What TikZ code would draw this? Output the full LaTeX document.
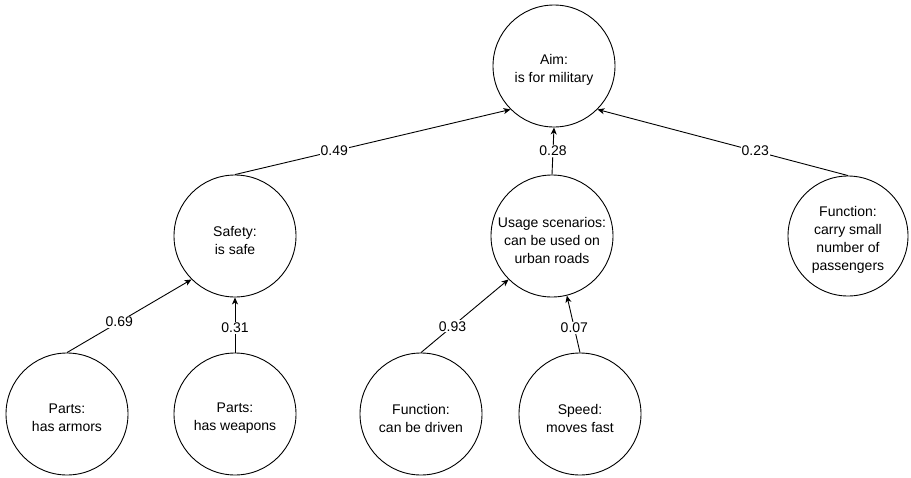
\documentclass[tikz,border=0pt]{standalone}
\usepackage{fontspec}
\setmainfont{Liberation Sans}
\usetikzlibrary{arrows.meta}
\begin{document}
\begin{tikzpicture}[x=1pt,y=-1pt,
  concept/.style={circle,draw,line width=0.9pt,minimum size=122pt,inner sep=0pt},
  caption/.style={align=center,inner sep=0pt,yshift=-4pt,font=\fontsize{14}{18}\selectfont},
  link/.style={line width=0.9pt,-{Stealth[length=7pt,width=6pt,inset=2pt]}},
  weight/.style={fill=white,inner sep=1pt,font=\fontsize{14}{16}\selectfont}]
\useasboundingbox (0,0) rectangle (911,477);
% concepts
\node[concept] (aim) at (554,66) {};
\node[caption] (aim-t) at (aim) {Aim:\\is for military};
\node[concept] (safety) at (235,236) {};
\node[caption] (safety-t) at (safety) {Safety:\\is safe};
\node[concept] (usage) at (552,236) {};
\node[caption] (usage-t) at (usage) {Usage scenarios:\\can be used on\\urban roads};
\node[concept,minimum size=120pt] (carry) at (848,236) {};
\node[caption] (carry-t) at (carry) {Function:\\carry small\\number of\\passengers};
\node[concept] (armors) at (67,414) {};
\node[caption] (armors-t) at (armors) {Parts:\\has armors};
\node[concept] (weapons) at (235,414) {};
\node[caption] (weapons-t) at (weapons) {Parts:\\has weapons};
\node[concept] (driven) at (421,414) {};
\node[caption] (driven-t) at (driven) {Function:\\can be driven};
\node[concept] (speed) at (580,414) {};
\node[caption] (speed-t) at (speed) {Speed:\\moves fast};
% weighted links
\draw[link] (safety.north) -- node[weight,pos=0.36] {0.49} (aim.225);
\draw[link] (usage.north) -- node[weight,pos=0.5] {0.28} (aim.south);
\draw[link] (carry.north) -- node[weight,pos=0.37] {0.23} (aim.315);
\draw[link] (armors.north) -- node[weight,pos=0.42] {0.69} (safety.225);
\draw[link] (weapons.north) -- node[weight,pos=0.45] {0.31} (safety.south);
\draw[link] (driven.north) -- node[weight,pos=0.36] {0.93} (usage.225);
\draw[link] (speed.north) -- node[weight,pos=0.43] {0.07} (usage.284);
\end{tikzpicture}
\end{document}
